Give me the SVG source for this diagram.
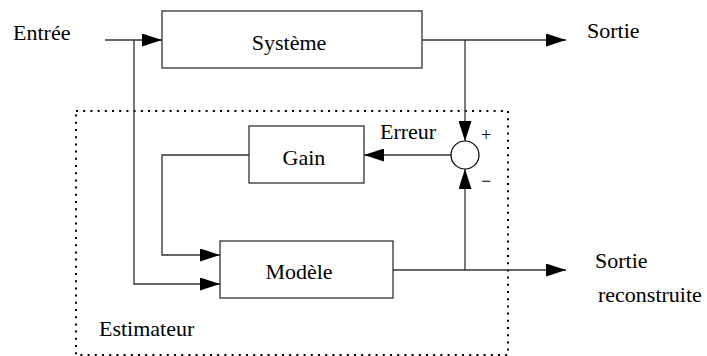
<svg xmlns="http://www.w3.org/2000/svg" width="707" height="356" viewBox="0 0 707 356">
<style>
.box{fill:#fff;stroke:#222;stroke-width:1.2}
.lbl{font-family:'Liberation Serif','Times New Roman',serif;font-size:22px;fill:#000}
.sm{font-family:'Liberation Serif','Times New Roman',serif;font-size:18px;fill:#000}
.wire{fill:none;stroke:#333;stroke-width:1.3}
.arr{marker-end:url(#ah)}
</style>
<defs>
<marker id="ah" viewBox="0 0 20 13" refX="20" refY="6.5" markerWidth="20" markerHeight="13" markerUnits="userSpaceOnUse" orient="auto">
<path d="M0,0 L20,6.5 L0,13 z" fill="#000"/>
</marker>
</defs>
<g id="estimateur">
<rect x="76" y="111" width="432" height="244" fill="none" stroke="#000" stroke-width="2" stroke-dasharray="2 5.2"/>
<text class="lbl" x="99" y="336">Estimateur</text>
</g>
<g id="connectors">
<path class="wire arr" d="M105,40 H162"/>
<path class="wire arr" d="M134,40 V284 H220"/>
<path class="wire arr" d="M422,40 H566"/>
<path class="wire arr" d="M465,40 V141"/>
<path class="wire arr" d="M451,155 H364"/>
<path class="wire arr" d="M249,155 H162 V255 H220"/>
<path class="wire arr" d="M393,270 H566"/>
<path class="wire arr" d="M465,270 V169"/>
</g>
<g id="systeme"><rect class="box" x="162" y="11" width="260" height="57"/><text class="lbl" x="289" y="50" text-anchor="middle">Système</text></g>
<g id="gain"><rect class="box" x="249" y="126" width="115" height="57"/><text class="lbl" x="304" y="165" text-anchor="middle">Gain</text></g>
<g id="modele"><rect class="box" x="220" y="241" width="173" height="57"/><text class="lbl" x="299" y="279" text-anchor="middle">Modèle</text></g>
<g id="somme"><circle cx="465" cy="155" r="14" fill="#fff" stroke="#000" stroke-width="1.2"/>
<text class="sm" x="486" y="141" text-anchor="middle">+</text>
<text class="sm" x="486" y="187" text-anchor="middle">−</text></g>
<g id="labels">
<text class="lbl" x="13" y="40">Entrée</text>
<text class="lbl" x="587" y="38">Sortie</text>
<text class="lbl" x="380" y="139">Erreur</text>
<text class="lbl" x="595" y="268">Sortie</text>
<text class="lbl" x="598" y="302">reconstruite</text>
</g>
</svg>
